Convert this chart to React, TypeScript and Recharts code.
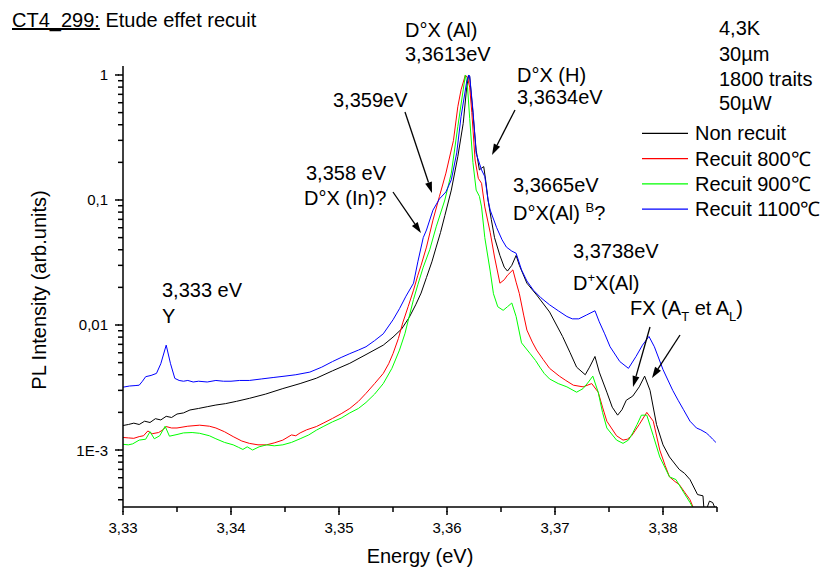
import { LineChart, Line, XAxis, YAxis } from "recharts";

const FONT = "'Liberation Sans', Arial, Helvetica, sans-serif";

// [energy (eV), normalised PL intensity]
const NON_RECUIT: [number, number][] = [
  [3.33, 1.57e-3], [3.3305, 1.6e-3], [3.331, 1.64e-3], [3.3315, 1.6e-3], [3.332, 1.7e-3],
  [3.3325, 1.66e-3], [3.333, 1.78e-3], [3.3335, 1.74e-3], [3.334, 1.86e-3], [3.3345, 1.82e-3],
  [3.335, 1.94e-3], [3.3356, 1.98e-3], [3.3362, 2.09e-3], [3.337, 2.15e-3], [3.3378, 2.22e-3],
  [3.3386, 2.29e-3], [3.3395, 2.35e-3], [3.3405, 2.45e-3], [3.3417, 2.59e-3], [3.3432, 2.8e-3],
  [3.3448, 3.1e-3], [3.3464, 3.4e-3], [3.3479, 3.75e-3], [3.3494, 4.3e-3], [3.351, 4.94e-3],
  [3.3525, 5.8e-3], [3.3541, 6.9e-3], [3.355, 8e-3], [3.3558, 9.3e-3], [3.3565, 0.0115],
  [3.3571, 0.0145], [3.3576, 0.018], [3.3581, 0.024], [3.3586, 0.032], [3.359, 0.042],
  [3.3594, 0.055], [3.3598, 0.075], [3.3604, 0.12], [3.361, 0.222], [3.3615, 0.41],
  [3.3618, 0.76], [3.362, 1.0], [3.3621, 0.97], [3.3624, 0.5], [3.3627, 0.25],
  [3.363, 0.174], [3.3632, 0.18], [3.3634, 0.185], [3.3636, 0.14], [3.3638, 0.1],
  [3.3641, 0.07], [3.3644, 0.05], [3.3649, 0.036], [3.3653, 0.029], [3.3656, 0.027],
  [3.366, 0.03], [3.3664, 0.036], [3.3667, 0.03], [3.3674, 0.0216], [3.3683, 0.0174],
  [3.3695, 0.0127], [3.3707, 0.0081], [3.3714, 0.006], [3.372, 0.0046], [3.3728, 0.004],
  [3.3732, 0.0046], [3.3737, 0.0056], [3.3741, 0.0042], [3.3748, 0.0029], [3.3753, 0.0022],
  [3.3758, 0.0019], [3.3762, 0.0021], [3.3766, 0.0025], [3.3772, 0.0027], [3.3778, 0.0032],
  [3.3783, 0.0039], [3.3788, 0.003], [3.3794, 0.0016], [3.38, 0.0011], [3.3806, 8.8e-4],
  [3.3815, 7e-4], [3.382, 6.5e-4], [3.3825, 5.8e-4], [3.3832, 4.4e-4], [3.3837, 4.3e-4],
  [3.3838, 3.3e-4], [3.384, 3.3e-4], [3.3843, 3.9e-4], [3.3846, 3.8e-4], [3.3849, 3.3e-4],
];

const RECUIT_800: [number, number][] = [
  [3.33, 1.26e-3], [3.3305, 1.25e-3], [3.331, 1.24e-3], [3.3315, 1.28e-3], [3.3319, 1.3e-3],
  [3.3323, 1.42e-3], [3.3327, 1.35e-3], [3.3333, 1.38e-3], [3.3337, 1.45e-3], [3.334, 1.54e-3],
  [3.3345, 1.5e-3], [3.335, 1.5e-3], [3.336, 1.55e-3], [3.3371, 1.58e-3], [3.338, 1.55e-3],
  [3.3386, 1.5e-3], [3.3394, 1.4e-3], [3.3402, 1.28e-3], [3.341, 1.18e-3], [3.3417, 1.13e-3],
  [3.3425, 1.1e-3], [3.3433, 1.1e-3], [3.344, 1.14e-3], [3.3448, 1.2e-3], [3.3456, 1.32e-3],
  [3.346, 1.3e-3], [3.3464, 1.37e-3], [3.347, 1.45e-3], [3.3479, 1.54e-3], [3.3486, 1.65e-3],
  [3.3494, 1.79e-3], [3.3502, 1.95e-3], [3.351, 2.15e-3], [3.3518, 2.45e-3], [3.3525, 2.84e-3],
  [3.3533, 3.4e-3], [3.3541, 4.1e-3], [3.3546, 4.9e-3], [3.355, 5.9e-3], [3.3555, 7.8e-3],
  [3.3559, 0.0104], [3.3564, 0.014], [3.3569, 0.019], [3.3573, 0.025], [3.3576, 0.03],
  [3.3581, 0.042], [3.3587, 0.069], [3.3593, 0.107], [3.3599, 0.164], [3.3606, 0.3],
  [3.361, 0.557], [3.3613, 0.76], [3.3617, 1.0], [3.3619, 0.95], [3.3621, 0.8],
  [3.3623, 0.5], [3.3626, 0.209], [3.3629, 0.149], [3.3632, 0.136], [3.3635, 0.088],
  [3.364, 0.055], [3.3644, 0.035], [3.3649, 0.0216], [3.3653, 0.023], [3.3656, 0.025],
  [3.3661, 0.0276], [3.3664, 0.022], [3.3667, 0.0178], [3.3671, 0.012], [3.3674, 0.0091],
  [3.3679, 0.0073], [3.3683, 0.0063], [3.3689, 0.0053], [3.3695, 0.0045], [3.3704, 0.0039],
  [3.371, 0.0036], [3.3717, 0.0033], [3.3726, 0.0032], [3.3734, 0.0034], [3.374, 0.0029],
  [3.3744, 0.0022], [3.3748, 0.0017], [3.3757, 0.0013], [3.3763, 0.0012], [3.3767, 0.00122],
  [3.3771, 0.0013], [3.3778, 0.0016], [3.3785, 0.002], [3.3791, 0.0017], [3.3797, 0.001],
  [3.3802, 7.5e-4], [3.3806, 6.1e-4], [3.3811, 5.6e-4], [3.3815, 5.3e-4], [3.382, 4.6e-4],
  [3.3825, 4e-4], [3.3829, 3.3e-4],
];

const RECUIT_900: [number, number][] = [
  [3.33, 1.11e-3], [3.3305, 1.1e-3], [3.3309, 1.12e-3], [3.3315, 1.2e-3], [3.3321, 1.22e-3],
  [3.3325, 1.4e-3], [3.3329, 1.23e-3], [3.3334, 1.3e-3], [3.3339, 1.55e-3], [3.3343, 1.29e-3],
  [3.335, 1.33e-3], [3.3356, 1.37e-3], [3.3364, 1.38e-3], [3.3371, 1.36e-3], [3.338, 1.3e-3],
  [3.3386, 1.23e-3], [3.3394, 1.15e-3], [3.3402, 1.1e-3], [3.3407, 1.05e-3], [3.3411, 1.01e-3],
  [3.3415, 1.06e-3], [3.342, 1.0e-3], [3.3426, 1.06e-3], [3.3433, 1.1e-3], [3.344, 1.08e-3],
  [3.3448, 1.1e-3], [3.3456, 1.15e-3], [3.3464, 1.23e-3], [3.3472, 1.32e-3], [3.3479, 1.44e-3],
  [3.3486, 1.55e-3], [3.3494, 1.68e-3], [3.3502, 1.8e-3], [3.351, 1.98e-3], [3.3518, 2.15e-3],
  [3.3525, 2.4e-3], [3.3533, 2.8e-3], [3.3541, 3.4e-3], [3.3549, 4.5e-3], [3.3556, 6.3e-3],
  [3.3561, 8.5e-3], [3.3565, 0.0117], [3.3569, 0.016], [3.3573, 0.021], [3.3578, 0.029],
  [3.3584, 0.04], [3.359, 0.061], [3.3598, 0.1], [3.3604, 0.164], [3.361, 0.386],
  [3.3615, 0.76], [3.3617, 1.0], [3.3619, 0.8], [3.3621, 0.45], [3.3624, 0.2],
  [3.3627, 0.12], [3.363, 0.107], [3.3632, 0.088], [3.3635, 0.05], [3.364, 0.027],
  [3.3643, 0.0178], [3.3647, 0.014], [3.3652, 0.0131], [3.3656, 0.014], [3.366, 0.015],
  [3.3664, 0.0117], [3.3669, 0.0072], [3.3677, 0.0059], [3.3682, 0.0052], [3.3686, 0.0046],
  [3.369, 0.0041], [3.3695, 0.0037], [3.3703, 0.0034], [3.3711, 0.0032], [3.372, 0.0029],
  [3.3726, 0.0031], [3.3731, 0.0035], [3.3735, 0.0039], [3.374, 0.0029], [3.3744, 0.002],
  [3.3748, 0.0015], [3.3757, 0.0012], [3.3763, 0.00113], [3.3768, 0.0012], [3.3772, 0.00137],
  [3.3776, 0.0016], [3.378, 0.0019], [3.3785, 0.0019], [3.3791, 0.0013], [3.3797, 8.8e-4],
  [3.3806, 6.1e-4], [3.3812, 5.8e-4], [3.3819, 4.6e-4], [3.3825, 3.8e-4], [3.3829, 3.3e-4],
];

const RECUIT_1100: [number, number][] = [
  [3.33, 3.18e-3], [3.3306, 3.25e-3], [3.3312, 3.28e-3], [3.3315, 3.3e-3], [3.3318, 3.55e-3],
  [3.3321, 3.86e-3], [3.3326, 3.95e-3], [3.3331, 4.1e-3], [3.3335, 4.9e-3], [3.334, 6.9e-3],
  [3.3344, 4.9e-3], [3.3348, 3.74e-3], [3.3352, 3.6e-3], [3.3356, 3.55e-3], [3.336, 3.6e-3],
  [3.3365, 3.5e-3], [3.337, 3.55e-3], [3.3378, 3.5e-3], [3.3386, 3.6e-3], [3.3393, 3.55e-3],
  [3.34, 3.55e-3], [3.3408, 3.6e-3], [3.3417, 3.6e-3], [3.3428, 3.7e-3], [3.3439, 3.8e-3],
  [3.345, 3.9e-3], [3.346, 4.0e-3], [3.3473, 4.2e-3], [3.3484, 4.6e-3], [3.3494, 5.1e-3],
  [3.3502, 5.5e-3], [3.351, 5.9e-3], [3.3518, 6.3e-3], [3.3525, 6.7e-3], [3.3533, 7.5e-3],
  [3.3541, 8.5e-3], [3.355, 0.011], [3.3556, 0.0135], [3.3562, 0.017], [3.3569, 0.0216],
  [3.3573, 0.032], [3.3578, 0.05], [3.3581, 0.0575], [3.3587, 0.083], [3.3593, 0.102],
  [3.3599, 0.116], [3.3604, 0.145], [3.3609, 0.238], [3.3613, 0.464], [3.3618, 0.86],
  [3.362, 1.0], [3.3621, 0.98], [3.3624, 0.525], [3.3627, 0.236], [3.3632, 0.174],
  [3.3635, 0.154], [3.3638, 0.1], [3.364, 0.083], [3.3646, 0.06], [3.3651, 0.048],
  [3.3655, 0.042], [3.366, 0.039], [3.3664, 0.0375], [3.3669, 0.0276], [3.3674, 0.0225],
  [3.368, 0.019], [3.3687, 0.0165], [3.3695, 0.0145], [3.3703, 0.013], [3.3711, 0.0117],
  [3.3716, 0.0112], [3.3722, 0.0112], [3.3729, 0.012], [3.3737, 0.013], [3.3741, 0.0106],
  [3.3746, 0.0085], [3.3751, 0.0067], [3.376, 0.0051], [3.3768, 0.0045], [3.3775, 0.0056],
  [3.3781, 0.0069], [3.3787, 0.0081], [3.3792, 0.0067], [3.38, 0.0044], [3.3809, 0.003],
  [3.3814, 0.0025], [3.3819, 0.0021], [3.3825, 0.0017], [3.3831, 0.0015], [3.3835, 0.00145],
  [3.384, 0.00137], [3.3843, 0.0013], [3.3846, 0.00122], [3.3849, 0.00115],
];

const SERIES = [
  { name: "Non recuit", color: "#000000", points: NON_RECUIT },
  { name: "Recuit 800℃", color: "#ff0000", points: RECUIT_800 },
  { name: "Recuit 900℃", color: "#00ff00", points: RECUIT_900 },
  { name: "Recuit 1100℃", color: "#0000ff", points: RECUIT_1100 },
];

const X_DOMAIN: [number, number] = [3.33, 3.385];
const Y_DOMAIN: [number, number] = [3.5e-4, 1.18];

const X_TICKS = [3.33, 3.335, 3.34, 3.345, 3.35, 3.355, 3.36, 3.365, 3.37, 3.375, 3.38, 3.385];
const X_LABELS: Record<string, string> = {
  "3.33": "3,33", "3.34": "3,34", "3.35": "3,35", "3.36": "3,36", "3.37": "3,37", "3.38": "3,38",
};
const Y_TICKS = [
  4e-4, 5e-4, 6e-4, 7e-4, 8e-4, 9e-4, 1e-3,
  2e-3, 3e-3, 4e-3, 5e-3, 6e-3, 7e-3, 8e-3, 9e-3, 0.01,
  0.02, 0.03, 0.04, 0.05, 0.06, 0.07, 0.08, 0.09, 0.1,
  0.2, 0.3, 0.4, 0.5, 0.6, 0.7, 0.8, 0.9, 1,
];
const Y_LABELS: Record<string, string> = { "0.001": "1E-3", "0.01": "0,01", "0.1": "0,1", "1": "1" };

// Recharts draws the 5px (minor) tick lines; majors get a 3px extension and a label
const XTick = (props: any) => {
  const { x, y, payload } = props;
  const label = X_LABELS[String(payload.value)];
  if (!label) return <g />;
  return (
    <g>
      <line x1={x} x2={x} y1={y - 1} y2={y + 3} stroke="#000" strokeWidth={1.5} />
      <text x={x} y={y + 21} textAnchor="middle" fontSize={15} fontFamily={FONT} fill="#000">
        {label}
      </text>
    </g>
  );
};

const YTick = (props: any) => {
  const { x, y, payload } = props;
  const label = Y_LABELS[String(payload.value)];
  if (!label) return <g />;
  return (
    <g>
      <line x1={x + 1} x2={x - 3} y1={y} y2={y} stroke="#000" strokeWidth={1.5} />
      <text x={x - 10} y={y + 5.5} textAnchor="end" fontSize={15} fontFamily={FONT} fill="#000">
        {label}
      </text>
    </g>
  );
};

function Arrow({ x1, y1, x2, y2 }: { x1: number; y1: number; x2: number; y2: number }) {
  const a = Math.atan2(y2 - y1, x2 - x1);
  const len = 11;
  const w = 3.5;
  const bx = x2 - len * Math.cos(a);
  const by = y2 - len * Math.sin(a);
  const px = -Math.sin(a) * w;
  const py = Math.cos(a) * w;
  return (
    <g>
      <line x1={x1} y1={y1} x2={bx} y2={by} stroke="#000" strokeWidth={1.3} />
      <polygon points={`${x2},${y2} ${bx + px},${by + py} ${bx - px},${by - py}`} fill="#000" />
    </g>
  );
}

const T = (p: { x: number; y: number; children: any; size?: number; anchor?: string }) => (
  <text x={p.x} y={p.y} fontSize={p.size ?? 20} fontFamily={FONT} fill="#000" textAnchor={p.anchor ?? "start"}>
    {p.children}
  </text>
);

function Annotations() {
  return (
    <svg width={825} height={574} style={{ position: "absolute", left: 0, top: 0, pointerEvents: "none" }}>
      <text x={12} y={27} fontSize={20} fontFamily={FONT} fill="#000">
        <tspan textDecoration="underline">CT4_299:</tspan> Etude effet recuit
      </text>

      <T x={405} y={37}>D°X (Al)</T>
      <T x={405} y={61}>3,3613eV</T>
      <T x={517} y={82}>D°X (H)</T>
      <T x={517} y={104}>3,3634eV</T>
      <T x={333} y={107}>3,359eV</T>
      <T x={306} y={180}>3,358 eV</T>
      <T x={304} y={205}>D°X (In)?</T>
      <T x={513} y={192}>3,3665eV</T>
      <text x={513} y={220} fontSize={20} fontFamily={FONT} fill="#000">
        D°X(Al) <tspan fontSize={13} dy={-8}>B</tspan><tspan dy={8}>?</tspan>
      </text>
      <T x={573} y={258}>3,3738eV</T>
      <text x={573} y={290} fontSize={20} fontFamily={FONT} fill="#000">
        D<tspan fontSize={13} dy={-8}>+</tspan><tspan dy={8}>X(Al)</tspan>
      </text>
      <text x={630} y={315} fontSize={20} fontFamily={FONT} fill="#000">
        FX (A<tspan fontSize={13} dy={6}>T</tspan><tspan dy={-6}> et A</tspan>
        <tspan fontSize={13} dy={6}>L</tspan><tspan dy={-6}>)</tspan>
      </text>
      <T x={162} y={297}>3,333 eV</T>
      <T x={162} y={323}>Y</T>

      <T x={719} y={35}>4,3K</T>
      <T x={719} y={61}>30µm</T>
      <T x={719} y={86}>1800 traits</T>
      <T x={719} y={110}>50µW</T>

      {SERIES.map((s, i) => {
        const cy = 133.3 + i * 25.3;
        return (
          <g key={s.name}>
            <line x1={642} x2={688} y1={cy} y2={cy} stroke={s.color} strokeWidth={1.2} />
            <T x={695} y={cy + 7}>{s.name}</T>
          </g>
        );
      })}

      <Arrow x1={405} y1={112} x2={432} y2={193} />
      <Arrow x1={393} y1={192} x2={421} y2={233} />
      <Arrow x1={515} y1={110} x2={492} y2={155} />
      <Arrow x1={650} y1={327} x2={633} y2={387} />
      <Arrow x1={680} y1={335} x2={652} y2={378} />

      <text x={420} y={563} textAnchor="middle" fontSize={20} fontFamily={FONT} fill="#000">
        Energy (eV)
      </text>
      <text
        x={0}
        y={0}
        transform="translate(46,290) rotate(-90)"
        textAnchor="middle"
        fontSize={20}
        fontFamily={FONT}
        fill="#000"
      >
        PL Intensity (arb.units)
      </text>
    </svg>
  );
}

export default function App() {
  return (
    <div style={{ position: "relative", width: 825, height: 574, background: "#fff" }}>
      <style>{"body{margin:0}"}</style>
      <LineChart width={825} height={574} margin={{ top: 66, right: 108, bottom: 37, left: 0 }}>
        <XAxis
          dataKey="e"
          type="number"
          domain={X_DOMAIN}
          allowDataOverflow
          ticks={X_TICKS}
          interval={0}
          height={30}
          tickSize={5}
          tickMargin={0}
          tickLine={{ stroke: "#000", strokeWidth: 1.5 }}
          tick={XTick}
          axisLine={{ stroke: "#000", strokeWidth: 1.5 }}
        />
        <YAxis
          type="number"
          scale="log"
          domain={Y_DOMAIN}
          allowDataOverflow
          ticks={Y_TICKS}
          interval={0}
          width={123}
          tickSize={5}
          tickMargin={0}
          tickLine={{ stroke: "#000", strokeWidth: 1.5 }}
          tick={YTick}
          axisLine={{ stroke: "#000", strokeWidth: 1.5 }}
        />
        {SERIES.map((s) => (
          <Line
            key={s.name}
            data={s.points.map(([e, v]) => ({ e, v }))}
            dataKey="v"
            name={s.name}
            type="linear"
            stroke={s.color}
            strokeWidth={1}
            dot={false}
            activeDot={false}
            isAnimationActive={false}
          />
        ))}
      </LineChart>
      <Annotations />
    </div>
  );
}
